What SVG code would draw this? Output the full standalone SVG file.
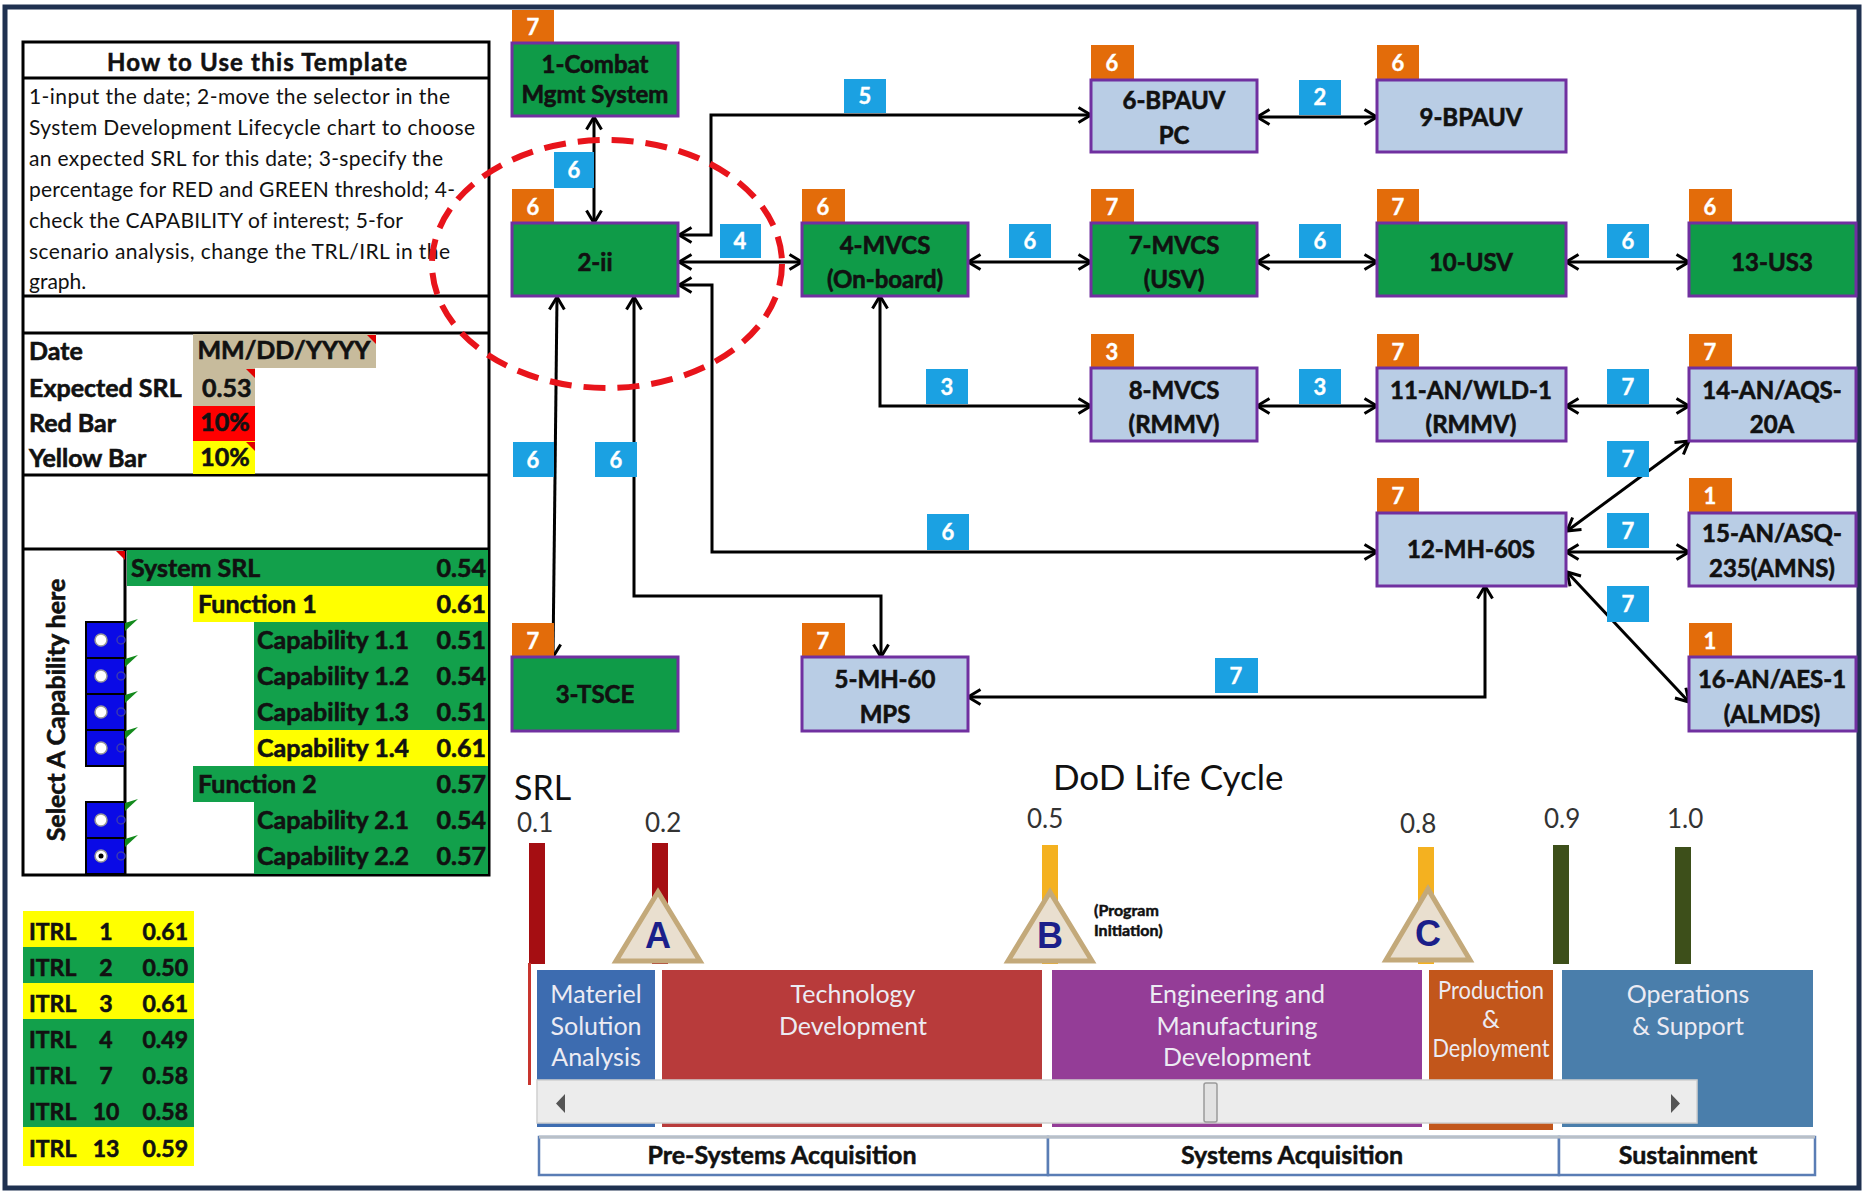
<svg xmlns="http://www.w3.org/2000/svg" width="1864" height="1192" viewBox="0 0 1864 1192">
<defs>
<style>
.t{font-family:Lato,"Open Sans","Liberation Sans",sans-serif;fill:#111}
.b{font-weight:bold;stroke:#111;stroke-width:0.5}
.lbl{font-family:Lato,"Open Sans","Liberation Sans",sans-serif;font-weight:bold;font-size:24px;fill:#111;stroke:#111;stroke-width:0.6;text-anchor:middle}
.bt{font-family:Lato,"Open Sans","Liberation Sans",sans-serif;font-weight:bold;font-size:22px;fill:#fff;stroke:#fff;stroke-width:0.4;text-anchor:middle}
.bo{fill:#e36c0a}
.bb{fill:#1ba1e2}
.gn{fill:#0f9b48;stroke:#7030a0;stroke-width:3}
.lb{fill:#b9cde5;stroke:#7030a0;stroke-width:3}
.conn path{fill:none;stroke:#000;stroke-width:3;marker-start:url(#ah);marker-end:url(#ah)}
.tg{fill:#12a04b}
.ty{fill:#ffff00}
.cell{font-family:Lato,"Open Sans","Liberation Sans",sans-serif;font-weight:bold;font-size:25px;fill:#111;stroke:#111;stroke-width:0.6}
.it{font-size:23px}
.ph{font-family:Lato,"Open Sans","Liberation Sans",sans-serif;font-size:25px;fill:#ecebf3;text-anchor:middle}
.srl{font-family:Lato,"Open Sans","Liberation Sans",sans-serif;font-size:26px;fill:#333}
.tri{fill:#e9dfcf;stroke:#c3a97a;stroke-width:5;stroke-linejoin:miter}
.ms{font-family:"Liberation Sans",Arial,sans-serif;font-weight:bold;font-size:36px;fill:#1b1f8a;text-anchor:middle}
.brk{fill:#fff;stroke:#5a7db5;stroke-width:2.5}
.bk{font-family:Lato,"Open Sans","Liberation Sans",sans-serif;font-weight:bold;font-size:25px;fill:#111;stroke:#111;stroke-width:0.5;text-anchor:middle}
.rad{fill:#fff;stroke:#999;stroke-width:1.5}
.gt{fill:#138a1c}
.rt{fill:#e00000}
</style>
<marker id="ah" viewBox="0 0 16 18" refX="14" refY="9" markerWidth="16" markerHeight="18" markerUnits="userSpaceOnUse" orient="auto-start-reverse">
<path d="M1.5,1.5 L14,9 L1.5,16.5" fill="none" stroke="#000" stroke-width="3"/>
</marker>
</defs>
<rect x="0" y="0" width="1864" height="1192" fill="#fff"/>
<rect x="5" y="7" width="1854" height="1181" fill="none" stroke="#1f3150" stroke-width="5"/>

<!-- Left panel -->
<g id="template-panel">
<rect x="23" y="42" width="466" height="833" fill="#fff" stroke="#000" stroke-width="3"/>
<line x1="23" y1="78" x2="489" y2="78" stroke="#000" stroke-width="3"/>
<line x1="23" y1="296" x2="489" y2="296" stroke="#000" stroke-width="3"/>
<line x1="23" y1="333" x2="489" y2="333" stroke="#000" stroke-width="3"/>
<line x1="23" y1="475" x2="489" y2="475" stroke="#000" stroke-width="3"/>
<line x1="23" y1="549" x2="489" y2="549" stroke="#000" stroke-width="3"/>
<text class="t b" x="257" y="71" font-size="24" text-anchor="middle" textLength="300">How to Use this Template</text>
<g class="t" font-size="21">
<text x="29" y="104" textLength="421">1-input the date; 2-move the selector in the</text>
<text x="29" y="135" textLength="446">System Development Lifecycle chart to choose</text>
<text x="29" y="166" textLength="414">an expected SRL for this date; 3-specify the</text>
<text x="29" y="197" textLength="426">percentage for RED and GREEN threshold; 4-</text>
<text x="29" y="228" textLength="374">check the CAPABILITY of interest; 5-for</text>
<text x="29" y="259" textLength="421">scenario analysis, change the TRL/IRL in the</text>
<text x="29" y="289">graph.</text>
</g>
<rect x="193" y="334" width="183" height="34" fill="#c7bb9c"/>
<rect x="193" y="368" width="62" height="38" fill="#c7bb9c"/>
<rect x="193" y="406" width="62" height="35" fill="#ff0000"/>
<rect x="193" y="441" width="62" height="33" fill="#ffff00"/>
<polygon class="rt" points="367,335 376,335 376,344"/>
<polygon class="rt" points="246,369 255,369 255,378"/>
<polygon class="rt" points="246,442 255,442 255,451"/>
<text class="cell" x="29" y="360">Date</text>
<text class="cell" x="29" y="397">Expected SRL</text>
<text class="cell" x="29" y="432">Red Bar</text>
<text class="cell" x="29" y="467">Yellow Bar</text>
<text class="cell" x="284" y="359" font-size="21" text-anchor="middle">MM/DD/YYYY</text>
<text class="cell" x="202" y="397" font-size="24">0.53</text>
<text class="cell" x="225" y="431" font-size="19" text-anchor="middle">10%</text>
<text class="cell" x="225" y="466" font-size="19" text-anchor="middle">10%</text>
<!-- capability section -->
<line x1="125" y1="549" x2="125" y2="875" stroke="#000" stroke-width="3"/>
<polygon class="rt" points="116,551 125,551 125,560"/>
<text class="cell" transform="translate(65,710) rotate(-90)" font-size="25" text-anchor="middle">Select A Capability here</text>
<rect class="tg" x="127" y="550" width="361" height="36"/>
<rect class="ty" x="193" y="586" width="295" height="36"/>
<rect class="tg" x="254" y="622" width="234" height="108"/>
<rect class="ty" x="254" y="730" width="234" height="36"/>
<rect class="tg" x="193" y="766" width="295" height="36"/>
<rect class="tg" x="254" y="802" width="234" height="72"/>
<g class="cell">
<text x="131" y="577">System SRL</text><text x="486" y="577" text-anchor="end">0.54</text>
<text x="198" y="613">Function 1</text><text x="486" y="613" text-anchor="end">0.61</text>
<text x="257" y="649">Capability 1.1</text><text x="486" y="649" text-anchor="end">0.51</text>
<text x="257" y="685">Capability 1.2</text><text x="486" y="685" text-anchor="end">0.54</text>
<text x="257" y="721">Capability 1.3</text><text x="486" y="721" text-anchor="end">0.51</text>
<text x="257" y="757">Capability 1.4</text><text x="486" y="757" text-anchor="end">0.61</text>
<text x="198" y="793">Function 2</text><text x="486" y="793" text-anchor="end">0.57</text>
<text x="257" y="829">Capability 2.1</text><text x="486" y="829" text-anchor="end">0.54</text>
<text x="257" y="865">Capability 2.2</text><text x="486" y="865" text-anchor="end">0.57</text>
</g>
<g id="radios">
<rect x="86" y="622" width="39" height="144" fill="#0a0ae6" stroke="#000" stroke-width="2"/>
<line x1="86" y1="658" x2="125" y2="658" stroke="#000" stroke-width="2"/>
<line x1="86" y1="694" x2="125" y2="694" stroke="#000" stroke-width="2"/>
<line x1="86" y1="730" x2="125" y2="730" stroke="#000" stroke-width="2"/>
<rect x="86" y="802" width="39" height="72" fill="#0a0ae6" stroke="#000" stroke-width="2"/>
<line x1="86" y1="838" x2="125" y2="838" stroke="#000" stroke-width="2"/>
<circle class="rad" cx="101" cy="640" r="6"/>
<circle class="rad" cx="101" cy="676" r="6"/>
<circle class="rad" cx="101" cy="712" r="6"/>
<circle class="rad" cx="101" cy="748" r="6"/>
<circle class="rad" cx="101" cy="820" r="6"/>
<circle class="rad" cx="101" cy="856" r="6"/>
<circle cx="101" cy="856" r="2.5" fill="#000"/>
<g fill="none" stroke="#3a3ab0" stroke-width="1.5">
<circle cx="121" cy="640" r="4"/><circle cx="121" cy="676" r="4"/><circle cx="121" cy="712" r="4"/><circle cx="121" cy="748" r="4"/><circle cx="121" cy="820" r="4"/><circle cx="121" cy="856" r="4"/>
</g>
<polygon class="gt" points="125,623 138,619 125,631"/>
<polygon class="gt" points="125,659 138,655 125,667"/>
<polygon class="gt" points="125,695 138,691 125,703"/>
<polygon class="gt" points="125,731 138,727 125,739"/>
<polygon class="gt" points="125,803 138,799 125,811"/>
<polygon class="gt" points="125,839 138,835 125,847"/>
</g>
</g>

<g id="itrl-table">
<rect class="ty" x="23" y="911" width="171" height="36"/>
<rect class="tg" x="23" y="947" width="171" height="36"/>
<rect class="ty" x="23" y="983" width="171" height="36"/>
<rect class="tg" x="23" y="1019" width="171" height="108"/>
<rect class="ty" x="23" y="1127" width="171" height="39"/>
<g class="cell it">
<text x="29" y="940">ITRL</text><text x="106" y="940" text-anchor="middle">1</text><text x="188" y="940" text-anchor="end">0.61</text>
<text x="29" y="976">ITRL</text><text x="106" y="976" text-anchor="middle">2</text><text x="188" y="976" text-anchor="end">0.50</text>
<text x="29" y="1012">ITRL</text><text x="106" y="1012" text-anchor="middle">3</text><text x="188" y="1012" text-anchor="end">0.61</text>
<text x="29" y="1048">ITRL</text><text x="106" y="1048" text-anchor="middle">4</text><text x="188" y="1048" text-anchor="end">0.49</text>
<text x="29" y="1084">ITRL</text><text x="106" y="1084" text-anchor="middle">7</text><text x="188" y="1084" text-anchor="end">0.58</text>
<text x="29" y="1120">ITRL</text><text x="106" y="1120" text-anchor="middle">10</text><text x="188" y="1120" text-anchor="end">0.58</text>
<text x="29" y="1157">ITRL</text><text x="106" y="1157" text-anchor="middle">13</text><text x="188" y="1157" text-anchor="end">0.59</text>
</g>
</g>

<!-- Connectors -->
<g id="connectors" class="conn">
<path d="M594,117 V223"/>
<path d="M679,235 H711 V115 H1091"/>
<path d="M679,262 H802"/>
<path d="M968,262 H1091"/>
<path d="M1257,262 H1377"/>
<path d="M1566,262 H1689"/>
<path d="M1257,117 H1377"/>
<path d="M880,296 V406 H1091"/>
<path d="M1257,406 H1377"/>
<path d="M1566,406 H1689"/>
<path d="M679,285 H712 V552 H1377"/>
<path d="M557,297 L553,657"/>
<path d="M634,297 V596 H881 V657"/>
<path d="M968,697 H1485 V586"/>
<path d="M1567,531 L1689,441"/>
<path d="M1566,552 H1689"/>
<path d="M1567,572 L1689,702"/>
</g>

<!-- Connector labels -->
<g id="connector-labels">
<rect class="bb" x="554" y="152" width="40" height="36"/><text class="bt" x="574" y="178">6</text>
<rect class="bb" x="844" y="79" width="42" height="34"/><text class="bt" x="865" y="104">5</text>
<rect class="bb" x="720" y="224" width="41" height="34"/><text class="bt" x="740" y="249">4</text>
<rect class="bb" x="1009" y="224" width="42" height="34"/><text class="bt" x="1030" y="249">6</text>
<rect class="bb" x="926" y="369" width="42" height="35"/><text class="bt" x="947" y="395">3</text>
<rect class="bb" x="1299" y="80" width="42" height="35"/><text class="bt" x="1320" y="105">2</text>
<rect class="bb" x="1299" y="224" width="42" height="34"/><text class="bt" x="1320" y="249">6</text>
<rect class="bb" x="1607" y="224" width="42" height="34"/><text class="bt" x="1628" y="249">6</text>
<rect class="bb" x="1299" y="369" width="42" height="35"/><text class="bt" x="1320" y="395">3</text>
<rect class="bb" x="1607" y="369" width="42" height="35"/><text class="bt" x="1628" y="395">7</text>
<rect class="bb" x="1607" y="441" width="42" height="36"/><text class="bt" x="1628" y="467">7</text>
<rect class="bb" x="1607" y="513" width="42" height="35"/><text class="bt" x="1628" y="539">7</text>
<rect class="bb" x="1607" y="586" width="42" height="36"/><text class="bt" x="1628" y="612">7</text>
<rect class="bb" x="927" y="514" width="42" height="36"/><text class="bt" x="948" y="540">6</text>
<rect class="bb" x="1215" y="658" width="43" height="35"/><text class="bt" x="1236" y="684">7</text>
<rect class="bb" x="513" y="442" width="41" height="35"/><text class="bt" x="533" y="468">6</text>
<rect class="bb" x="595" y="442" width="42" height="35"/><text class="bt" x="616" y="468">6</text>
</g>

<!-- Nodes -->
<g id="n1"><rect class="bo" x="512" y="10" width="42" height="33"/><text class="bt" x="533" y="35">7</text>
<rect class="gn" x="512" y="43" width="166" height="73"/><text class="lbl" x="595" y="73" font-size="22">1-Combat</text><text class="lbl" x="595" y="103" font-size="22">Mgmt System</text></g>
<g id="n2"><rect class="bo" x="512" y="189" width="42" height="34"/><text class="bt" x="533" y="215">6</text>
<rect class="gn" x="512" y="223" width="166" height="73"/><text class="lbl" x="595" y="271">2-ii</text></g>
<g id="n3"><rect class="bo" x="512" y="623" width="42" height="34"/><text class="bt" x="533" y="649">7</text>
<rect class="gn" x="512" y="657" width="166" height="74"/><text class="lbl" x="595" y="703">3-TSCE</text></g>
<g id="n4"><rect class="bo" x="802" y="189" width="43" height="34"/><text class="bt" x="823" y="215">6</text>
<rect class="gn" x="802" y="223" width="166" height="73"/><text class="lbl" x="885" y="254">4-MVCS</text><text class="lbl" x="885" y="288">(On-board)</text></g>
<g id="n5"><rect class="bo" x="802" y="623" width="43" height="34"/><text class="bt" x="823" y="649">7</text>
<rect class="lb" x="802" y="657" width="166" height="74"/><text class="lbl" x="885" y="688">5-MH-60</text><text class="lbl" x="885" y="723">MPS</text></g>
<g id="n6"><rect class="bo" x="1091" y="45" width="43" height="35"/><text class="bt" x="1112" y="71">6</text>
<rect class="lb" x="1091" y="80" width="166" height="72"/><text class="lbl" x="1174" y="109">6-BPAUV</text><text class="lbl" x="1174" y="144">PC</text></g>
<g id="n7"><rect class="bo" x="1091" y="189" width="43" height="34"/><text class="bt" x="1112" y="215">7</text>
<rect class="gn" x="1091" y="223" width="166" height="73"/><text class="lbl" x="1174" y="254">7-MVCS</text><text class="lbl" x="1174" y="288">(USV)</text></g>
<g id="n8"><rect class="bo" x="1091" y="334" width="43" height="34"/><text class="bt" x="1112" y="360">3</text>
<rect class="lb" x="1091" y="368" width="166" height="73"/><text class="lbl" x="1174" y="399">8-MVCS</text><text class="lbl" x="1174" y="433">(RMMV)</text></g>
<g id="n9"><rect class="bo" x="1377" y="45" width="42" height="35"/><text class="bt" x="1398" y="71">6</text>
<rect class="lb" x="1377" y="80" width="189" height="72"/><text class="lbl" x="1471" y="126">9-BPAUV</text></g>
<g id="n10"><rect class="bo" x="1377" y="189" width="42" height="34"/><text class="bt" x="1398" y="215">7</text>
<rect class="gn" x="1377" y="223" width="189" height="73"/><text class="lbl" x="1471" y="271">10-USV</text></g>
<g id="n11"><rect class="bo" x="1377" y="334" width="42" height="34"/><text class="bt" x="1398" y="360">7</text>
<rect class="lb" x="1377" y="368" width="189" height="73"/><text class="lbl" x="1471" y="399" font-size="23">11-AN/WLD-1</text><text class="lbl" x="1471" y="433" font-size="23">(RMMV)</text></g>
<g id="n12"><rect class="bo" x="1377" y="478" width="42" height="35"/><text class="bt" x="1398" y="504">7</text>
<rect class="lb" x="1377" y="513" width="189" height="73"/><text class="lbl" x="1471" y="558">12-MH-60S</text></g>
<g id="n13"><rect class="bo" x="1689" y="189" width="43" height="34"/><text class="bt" x="1710" y="215">6</text>
<rect class="gn" x="1689" y="223" width="167" height="73"/><text class="lbl" x="1772" y="271">13-US3</text></g>
<g id="n14"><rect class="bo" x="1689" y="334" width="43" height="34"/><text class="bt" x="1710" y="360">7</text>
<rect class="lb" x="1689" y="368" width="167" height="73"/><text class="lbl" x="1772" y="399" font-size="23">14-AN/AQS-</text><text class="lbl" x="1772" y="433" font-size="23">20A</text></g>
<g id="n15"><rect class="bo" x="1689" y="478" width="43" height="35"/><text class="bt" x="1710" y="504">1</text>
<rect class="lb" x="1689" y="513" width="167" height="73"/><text class="lbl" x="1772" y="542" font-size="21">15-AN/ASQ-</text><text class="lbl" x="1772" y="577" font-size="21">235(AMNS)</text></g>
<g id="n16"><rect class="bo" x="1689" y="623" width="43" height="34"/><text class="bt" x="1710" y="649">1</text>
<rect class="lb" x="1689" y="657" width="167" height="74"/><text class="lbl" x="1772" y="688" font-size="22">16-AN/AES-1</text><text class="lbl" x="1772" y="723" font-size="22">(ALMDS)</text></g>

<!-- Highlight ellipse -->
<g id="highlight">
<ellipse cx="607" cy="264" rx="175" ry="124" fill="none" stroke="#e8141b" stroke-width="6" stroke-dasharray="22 12"/>
</g>

<!-- Life cycle chart -->
<g id="lifecycle">
<text class="t" x="514" y="800" font-size="34">SRL</text>
<text class="t" x="1053" y="790" font-size="35">DoD Life Cycle</text>
<text class="srl" x="517" y="832">0.1</text>
<text class="srl" x="645" y="832">0.2</text>
<text class="srl" x="1027" y="828">0.5</text>
<text class="srl" x="1400" y="833">0.8</text>
<text class="srl" x="1544" y="828">0.9</text>
<text class="srl" x="1667" y="828">1.0</text>
<rect x="529" y="843" width="16" height="121" fill="#a50e12"/>
<rect x="528" y="963" width="3" height="122" fill="#c8352e"/>
<rect x="652" y="843" width="16" height="121" fill="#a50e12"/>
<rect x="1042" y="845" width="16" height="119" fill="#f4b120"/>
<rect x="1418" y="847" width="16" height="117" fill="#f4b120"/>
<rect x="1553" y="845" width="16" height="119" fill="#3d4f1a"/>
<rect x="1675" y="847" width="16" height="117" fill="#3d4f1a"/>
<polygon class="tri" points="658,892 616,961 700,961"/>
<text class="ms" x="658" y="948">A</text>
<polygon class="tri" points="1050,892 1008,961 1092,961"/>
<text class="ms" x="1050" y="948">B</text>
<text class="t b" x="1094" y="916" font-size="16" fill="#333" stroke-width="0.3">(Program</text>
<text class="t b" x="1094" y="936" font-size="16" fill="#333" stroke-width="0.3">Initiation)</text>
<polygon class="tri" points="1428,889 1386,960 1470,960"/>
<text class="ms" x="1428" y="946">C</text>
<rect x="537" y="970" width="118" height="157" fill="#3d6cb0"/>
<rect x="662" y="970" width="380" height="157" fill="#b83b3b"/>
<rect x="1052" y="970" width="370" height="157" fill="#943d97"/>
<rect x="1429" y="970" width="124" height="160" fill="#c2561b"/>
<rect x="1562" y="970" width="251" height="157" fill="#4a7eab"/>
<text class="ph" x="596" y="1003">Materiel</text>
<text class="ph" x="596" y="1035">Solution</text>
<text class="ph" x="596" y="1066">Analysis</text>
<text class="ph" x="853" y="1003">Technology</text>
<text class="ph" x="853" y="1035">Development</text>
<text class="ph" x="1237" y="1003">Engineering and</text>
<text class="ph" x="1237" y="1035">Manufacturing</text>
<text class="ph" x="1237" y="1066">Development</text>
<text class="ph" x="1491" y="999" font-size="21" textLength="106" lengthAdjust="spacingAndGlyphs">Production</text>
<text class="ph" x="1491" y="1028" font-size="21">&amp;</text>
<text class="ph" x="1491" y="1057" font-size="21" textLength="117" lengthAdjust="spacingAndGlyphs">Deployment</text>
<text class="ph" x="1688" y="1003">Operations</text>
<text class="ph" x="1688" y="1035">&amp; Support</text>
<rect x="537" y="1080" width="1160" height="43" fill="#ececec" stroke="#cfcfcf" stroke-width="1.5"/>
<polygon points="565,1094 556,1103.5 565,1113" fill="#555"/>
<polygon points="1671,1094 1680,1103.5 1671,1113" fill="#555"/>
<rect x="1204" y="1083" width="13" height="39" rx="2" fill="#e2e2e2" stroke="#9a9a9a" stroke-width="1.5"/>
<rect class="brk" x="539" y="1137" width="509" height="38"/>
<rect class="brk" x="1048" y="1137" width="511" height="38"/>
<rect class="brk" x="1559" y="1137" width="256" height="38"/>
<line x1="539" y1="1137" x2="1815" y2="1137" stroke="#b9c0c8" stroke-width="3"/>
<text class="bk" x="782" y="1164">Pre-Systems Acquisition</text>
<text class="bk" x="1292" y="1164">Systems Acquisition</text>
<text class="bk" x="1688" y="1164">Sustainment</text>
</g>
</svg>
